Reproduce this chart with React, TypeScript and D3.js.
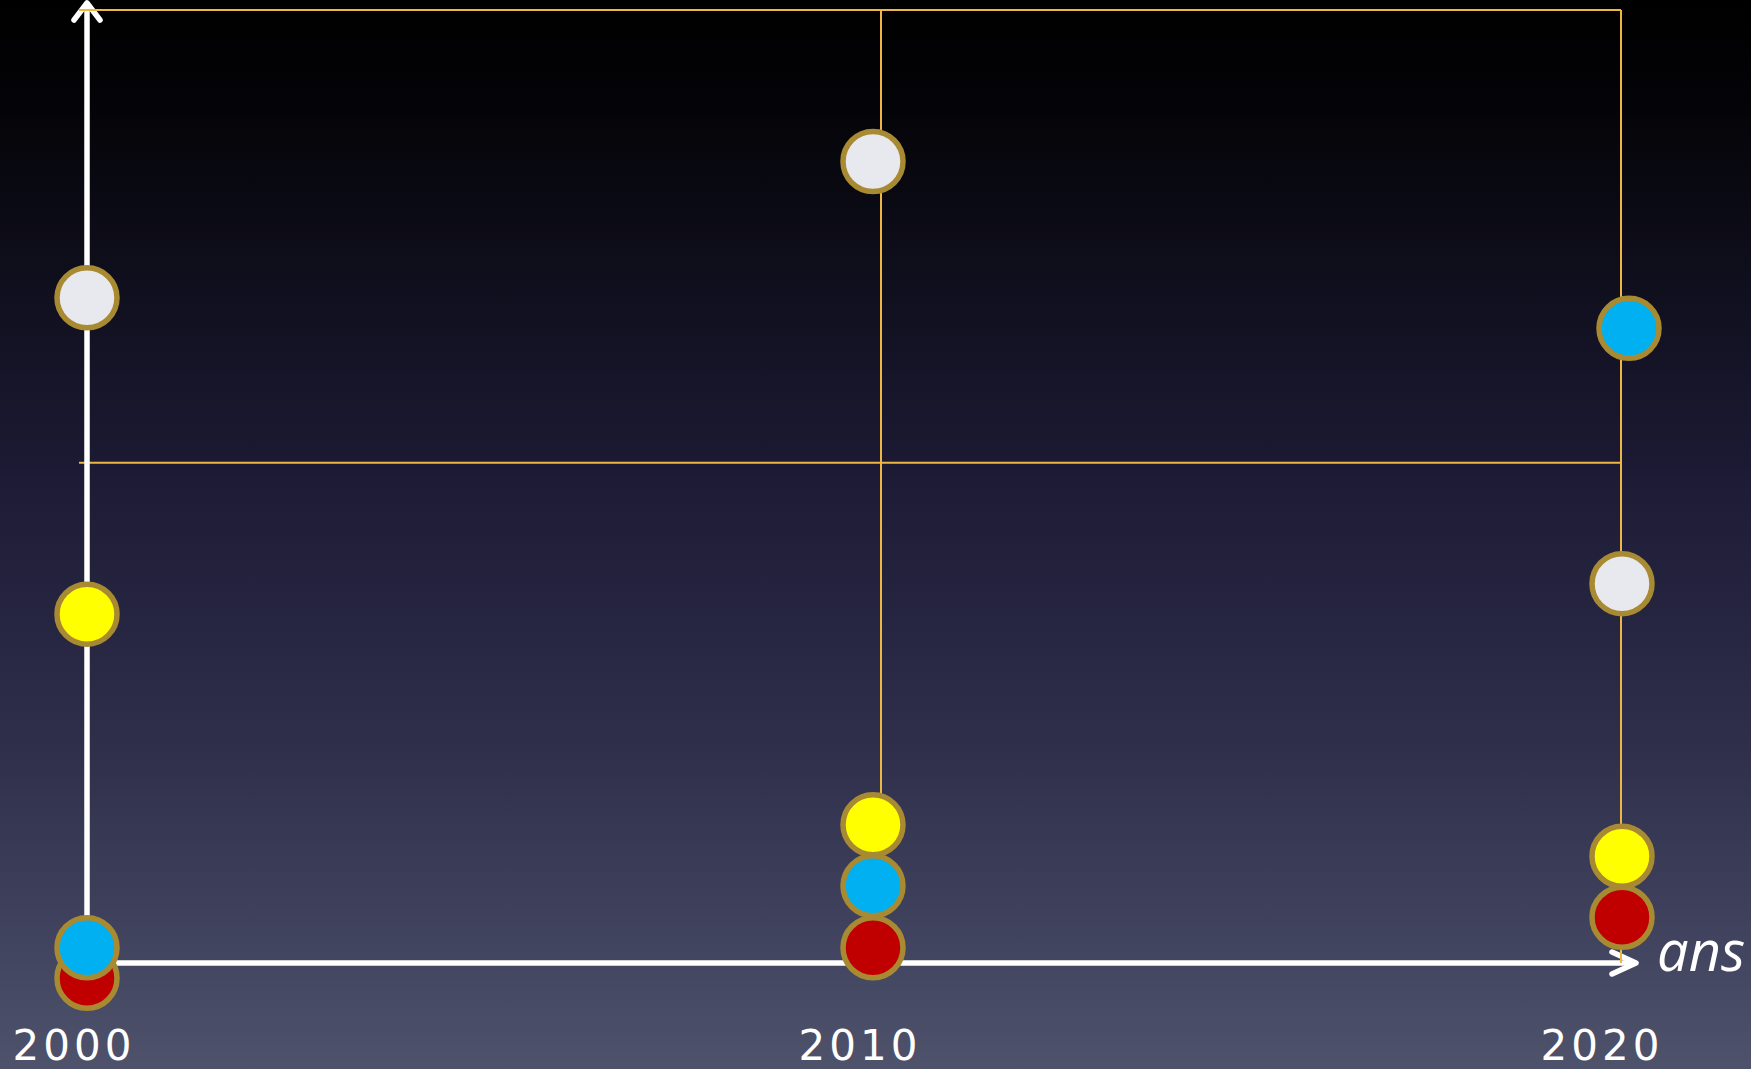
import React, { useRef, useEffect } from "react";
import * as d3 from "d3";

const years = [2000, 2010, 2020];
const series = ["blanc", "jaune", "bleu", "rouge"];
const blanc = [69.8, 84.1, 39.8];
const jaune = [36.6, 14.5, 11.2];
const bleu = [1.6, 8.1, 66.6];
const rouge = [-1.6, 1.6, 4.8];
const refLevel = 52.5;
const topLevel = 100;

const fills: Record<string, string> = {
  blanc: "#e8e9ee",
  jaune: "#ffff00",
  bleu: "#00b0f0",
  rouge: "#c00000",
};

const width = 1751;
const height = 1069;

const App: React.FC = () => {
  const svgRef = useRef<SVGSVGElement | null>(null);

  useEffect(() => {
    if (!svgRef.current) return;
    document.body.style.margin = "0";

    const svg = d3.select(svgRef.current);
    svg.selectAll("*").remove();

    const x = d3.scaleLinear().domain(years).range([87, 881, 1621]);
    const y = d3.scaleLinear().domain([0, topLevel]).range([963, 10]);
    // dots are not exactly centred on the column lines in the original
    const nudge = (yr: number, s: string) => (yr === 2010 ? -8 : yr === 2020 ? (s === "bleu" ? 8 : 1) : 0);
    const labelShift: Record<number, number> = { 2000: -13, 2010: -21, 2020: -19 };

    const defs = svg.append("defs");
    const grad = defs.append("linearGradient")
      .attr("id", "bg")
      .attr("x1", 0).attr("y1", 0).attr("x2", 0).attr("y2", 1);
    [
      [0, "#000000"],
      [0.1, "#040408"],
      [0.45, "#1d1b35"],
      [0.7, "#2f2f4c"],
      [1, "#4e526b"],
    ].forEach(([o, c]) => grad.append("stop").attr("offset", o as number).attr("stop-color", c as string));

    svg.append("rect").attr("width", width).attr("height", height).attr("fill", "url(#bg)");

    const gold = "#eeb744";
    const lines = svg.append("g").attr("stroke", gold).attr("stroke-width", 2).attr("fill", "none");

    // horizontal reference line (sits under the y axis)
    lines.append("line")
      .attr("x1", x(2000) - 8).attr("x2", x(2020))
      .attr("y1", y(refLevel)).attr("y2", y(refLevel));

    // axes
    const axes = svg.append("g")
      .attr("stroke", "#ffffff")
      .attr("stroke-width", 5.5)
      .attr("fill", "none")
      .attr("stroke-linecap", "round")
      .attr("stroke-linejoin", "round");

    const x0 = x(2000);
    const y0 = y(0);
    axes.append("line").attr("x1", x0).attr("x2", x0).attr("y1", y0).attr("y2", 3).attr("stroke-linecap", "butt");
    axes.append("path").attr("d", `M${x0 - 13},${20} L${x0},${3} L${x0 + 13},${20}`);
    const xEnd = 1636;
    axes.append("line").attr("x1", x0).attr("x2", xEnd).attr("y1", y0).attr("y2", y0).attr("stroke-linecap", "butt");
    axes.append("path").attr("d", `M${xEnd - 24},${y0 - 11} L${xEnd},${y0} L${xEnd - 24},${y0 + 11}`);

    const over = svg.append("g").attr("stroke", gold).attr("stroke-width", 2).attr("fill", "none");
    over.append("line")
      .attr("x1", x(2000) - 8).attr("x2", x(2020))
      .attr("y1", y(topLevel)).attr("y2", y(topLevel));
    over.append("line")
      .attr("x1", x(2010)).attr("x2", x(2010))
      .attr("y1", y(topLevel)).attr("y2", y(jaune[1]));
    over.append("line")
      .attr("x1", x(2020)).attr("x2", x(2020))
      .attr("y1", y(topLevel)).attr("y2", y(0));

    const valuesBySeries: Record<string, number[]> = { blanc, jaune, bleu, rouge };
    const points = years.flatMap((yr, i) =>
      series.map((s) => ({ year: yr, serie: s, value: valuesBySeries[s][i] }))
    );
    // lower dots first so the upper ones overlap them
    points.sort((a, b) => a.value - b.value);

    svg.append("g")
      .selectAll("circle")
      .data(points)
      .enter().append("circle")
      .attr("cx", (d) => x(d.year) + nudge(d.year, d.serie))
      .attr("cy", (d) => y(d.value))
      .attr("r", 30)
      .attr("fill", (d) => fills[d.serie])
      .attr("stroke", "#a88a32")
      .attr("stroke-width", 5.5);

    svg.append("g")
      .selectAll("text")
      .data(years)
      .enter().append("text")
      .attr("x", (d) => x(d) + labelShift[d])
      .attr("y", 1060)
      .attr("text-anchor", "middle")
      .attr("fill", "#ffffff")
      .attr("font-family", "DejaVu Sans")
      .attr("font-size", 42)
      .attr("letter-spacing", 4)
      .text((d) => String(d));

    svg.append("text")
      .attr("x", 1657)
      .attr("y", 971)
      .attr("fill", "#ffffff")
      .attr("font-family", "Open Sans")
      .attr("font-style", "italic")
      .attr("font-size", 56)
      .text("ans");
  }, []);

  return (
    <svg
      ref={svgRef}
      width={width}
      height={height}
      style={{ position: "absolute", left: 0, top: 0, display: "block" }}
    />
  );
};

export default App;
